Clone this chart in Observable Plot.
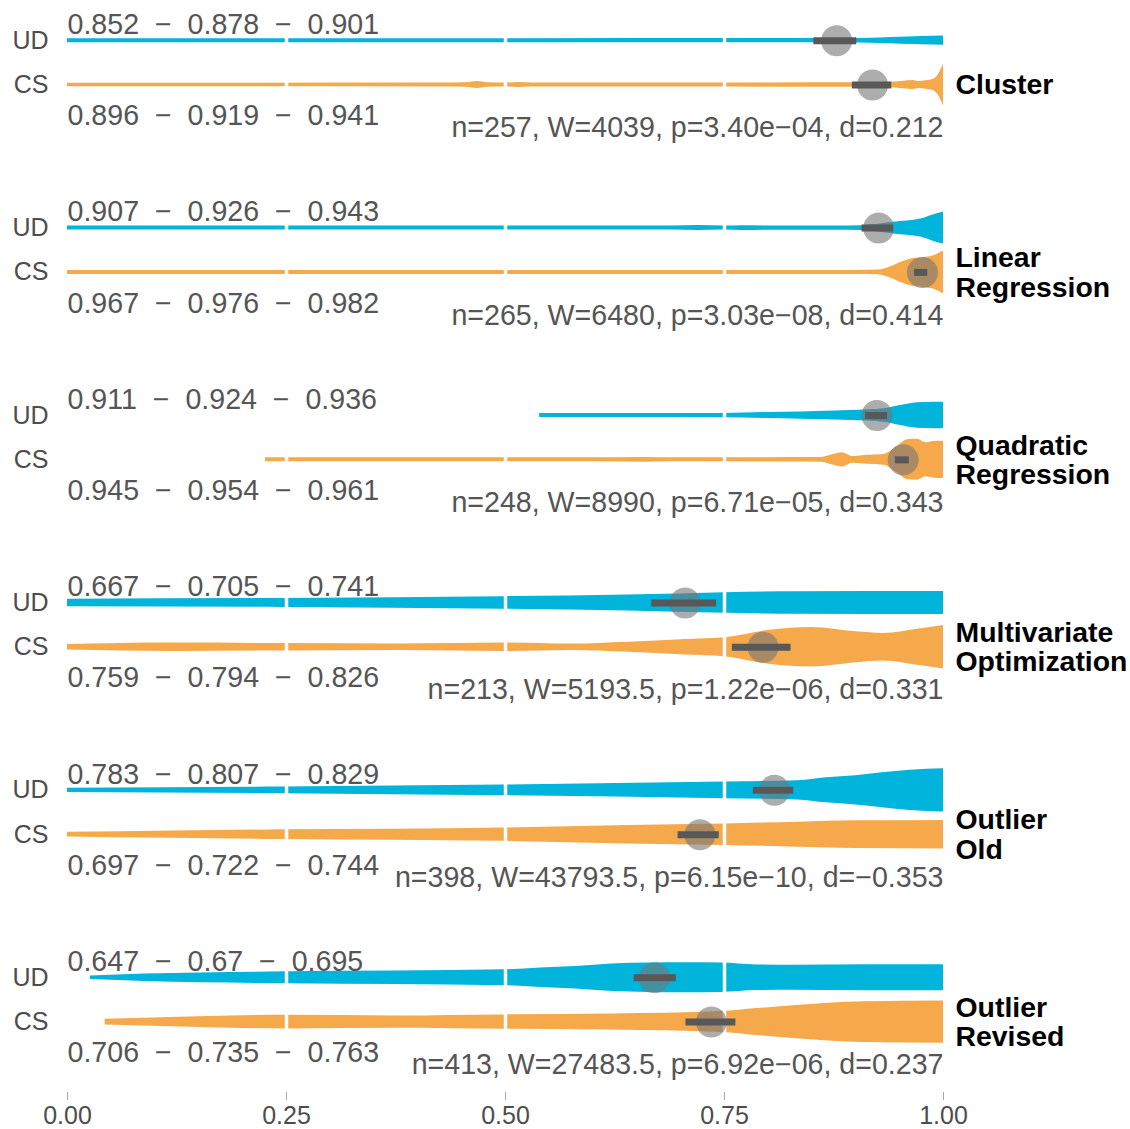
<!DOCTYPE html>
<html>
<head>
<meta charset="utf-8">
<script src="https://cdn.jsdelivr.net/npm/d3@7"></script>
<script src="https://cdn.jsdelivr.net/npm/@observablehq/plot@0.6"></script>
<style>
  html, body { margin: 0; padding: 0; background: #fff; }
</style>
</head>
<body>
<div id="chart"></div>
<script>
// ---- data ----
const panelNames = ["Cluster", "Linear\nRegression", "Quadratic\nRegression",
  "Multivariate\nOptimization", "Outlier\nOld", "Outlier\nRevised"];
const groups = ["UD", "CS"];

// [lower, mean, upper] of the confidence interval
const udCI = [[0.852, 0.878, 0.901], [0.907, 0.926, 0.943], [0.911, 0.924, 0.936],
  [0.667, 0.705, 0.741], [0.783, 0.807, 0.829], [0.647, 0.67, 0.695]];
const csCI = [[0.896, 0.919, 0.941], [0.967, 0.976, 0.982], [0.945, 0.954, 0.961],
  [0.759, 0.794, 0.826], [0.697, 0.722, 0.744], [0.706, 0.735, 0.763]];

const nVals = [257, 265, 248, 213, 398, 413];
const wVals = [4039, 6480, 8990, 5193.5, 43793.5, 27483.5];
const pVals = [3.40e-4, 3.03e-8, 6.71e-5, 1.22e-6, 6.15e-10, 6.92e-6];
const dVals = [0.212, 0.414, 0.343, 0.331, -0.353, 0.237];

// violin profiles: [value, relative density (half width)]
const udDensity = [
  [[0, 2], [0.5, 2], [0.8, 2.1], [0.905, 2.3], [0.951, 3.5], [1, 4.6]],
  [[0, 2], [0.5, 2], [0.69, 2], [0.72, 2.5], [0.75, 2], [0.77, 2.4], [0.8, 2.1], [0.88, 2.1],
   [0.905, 2.4], [0.925, 3.8], [0.943, 5.8], [0.974, 9], [0.989, 13.3], [1, 16]],
  [[0.539, 2], [0.6, 2], [0.749, 2.1], [0.8, 3], [0.837, 3.6], [0.894, 5], [0.932, 6.7],
   [0.951, 10], [0.97, 12.8], [0.989, 13.3], [1, 13.3]],
  [[0, 3.8], [0.245, 4.5], [0.498, 6.3], [0.64, 8], [0.75, 10.3], [0.834, 11.3], [1, 11.5]],
  [[0, 2.2], [0.245, 3.3], [0.498, 5.3], [0.75, 8.3], [0.834, 9.6], [0.866, 12.5], [0.9, 14.7],
   [0.93, 17.5], [0.962, 20.2], [1, 21.7]],
  [[0.026, 1.8], [0.088, 3.7], [0.25, 6], [0.499, 8], [0.54, 9.8], [0.58, 11.3], [0.622, 13.8],
   [0.663, 14.7], [0.704, 15], [0.746, 14.7], [0.787, 12.8], [0.828, 12.5], [0.91, 12.9], [1, 13]]
];
const csDensity = [
  [[0, 1.8], [0.42, 1.9], [0.455, 2.2], [0.468, 3.4], [0.48, 2.2], [0.5, 2], [0.515, 2.5],
   [0.53, 2], [0.7, 2.1], [0.9, 2.2], [0.94, 2.8], [0.955, 3.8], [0.965, 4.6], [0.972, 3.6],
   [0.98, 4.3], [0.988, 5.5], [0.994, 10], [1, 21]],
  [[0, 2], [0.5, 2], [0.9, 2], [0.925, 2.4], [0.94, 5.8], [0.951, 10], [0.962, 13.3],
   [0.977, 15], [0.989, 16.8], [1, 21.5]],
  [[0.226, 2], [0.6, 2], [0.66, 2.4], [0.69, 2], [0.86, 2.3], [0.875, 5.5], [0.884, 7.2],
   [0.897, 3.4], [0.913, 4.5], [0.932, 5.4], [0.947, 13], [0.959, 20], [0.97, 20.5],
   [0.98, 17], [0.989, 18.3], [1, 18.7]],
  [[0, 2.8], [0.121, 4.2], [0.245, 3.7], [0.38, 3.3], [0.498, 4.3], [0.575, 3.2], [0.64, 5],
   [0.705, 7.7], [0.75, 9.5], [0.801, 17], [0.85, 19.8], [0.9, 15.5], [0.932, 13.8],
   [0.97, 18], [1, 21.7]],
  [[0, 2.3], [0.121, 3.7], [0.245, 4.8], [0.498, 6.7], [0.64, 9.2], [0.75, 10.7], [0.834, 12.5],
   [0.9, 13.8], [1, 14.2]],
  [[0.043, 2.8], [0.129, 4.8], [0.25, 6.8], [0.376, 6.2], [0.499, 7.2], [0.622, 8],
   [0.746, 10.5], [0.787, 13.5], [0.828, 16.3], [0.869, 18.8], [0.91, 20.3], [1, 21.2]]
];

const xTicks = [0, 0.25, 0.5, 0.75, 1];
const gridValues = [0.25, 0.5, 0.75];

// ---- styling ----
const colors = ["#00B4DC", "#F5A94A"];
const rowOf = {UD: 1, CS: 0};
const k = 1 / 44.3;            // density unit -> row units
const textGray = "#555555";
const font = "'Liberation Sans', Arial, Helvetica, sans-serif";
const statSize = 28.6;

// ---- formatting ----
const sep = "\u00a0\u00a0\u2212\u00a0\u00a0";
const ciText = ci => ci.map(String).join(sep);
const fmtP = p => {
  const [m, e] = p.toExponential(2).split("e");
  const sign = e[0] === "-" ? "\u2212" : "+";
  return `${m}e${sign}${e.replace(/^[+-]/, "").padStart(2, "0")}`;
};
const fmtD = d => (d < 0 ? "\u2212" : "") + String(Math.abs(d));

// ---- tables ----
const violinRows = [];
panelNames.forEach((panel, i) => {
  udDensity[i].forEach(([v, d]) => violinRows.push({panel, group: "UD", c: rowOf.UD, v, d}));
  csDensity[i].forEach(([v, d]) => violinRows.push({panel, group: "CS", c: rowOf.CS, v, d}));
});

const summaryRows = [];
panelNames.forEach((panel, i) => {
  summaryRows.push({panel, group: "UD", c: rowOf.UD, lo: udCI[i][0], mean: udCI[i][1], hi: udCI[i][2]});
  summaryRows.push({panel, group: "CS", c: rowOf.CS, lo: csCI[i][0], mean: csCI[i][1], hi: csCI[i][2]});
});

const textRows = panelNames.map((panel, i) => ({
  panel,
  udText: ciText(udCI[i]),
  csText: ciText(csCI[i]),
  stat: `n=${nVals[i]}, W=${wVals[i]}, p=${fmtP(pVals[i])}, d=${fmtD(dVals[i])}`
}));

const chart = Plot.plot({
  width: 1130,
  height: 1129,
  marginLeft: 67,
  marginRight: 187,
  marginTop: 20,
  marginBottom: 37,
  style: {fontFamily: font, background: "#fff"},
  x: {domain: [0, 1]},
  y: {domain: [-1.589, 1.456]},
  fy: {domain: panelNames, axis: null, paddingInner: 0.28, paddingOuter: 0, round: false},
  color: {domain: groups, range: colors},
  marks: [
    Plot.areaY(violinRows, {
      fy: "panel", x: "v",
      y1: r => r.c - r.d * k, y2: r => r.c + r.d * k,
      z: "group", fill: "group", curve: "monotone-x"
    }),
    Plot.ruleX(gridValues, {stroke: "#fff", strokeWidth: 3.5}),
    Plot.dot(summaryRows, {fy: "panel", x: "mean", y: "c", r: 15.5, fill: "#767676", fillOpacity: 0.6, stroke: null}),
    Plot.ruleY(summaryRows, {fy: "panel", y: "c", x1: "lo", x2: "hi", stroke: "#585858", strokeWidth: 7}),
    Plot.text(textRows, {fy: "panel", y: () => 1, dy: -16, frameAnchor: "left", textAnchor: "start",
      text: "udText", fontSize: statSize, fill: textGray}),
    Plot.text(textRows, {fy: "panel", y: () => 0, dy: 31, frameAnchor: "left", textAnchor: "start",
      text: "csText", fontSize: statSize, fill: textGray}),
    Plot.text(textRows, {fy: "panel", y: () => 0, dy: 43, frameAnchor: "right", textAnchor: "end",
      text: "stat", fontSize: statSize, fill: textGray}),
    Plot.text(textRows, {fy: "panel", y: () => 0, dx: 12, frameAnchor: "right", textAnchor: "start",
      text: "panel", fontSize: 28.4, fontWeight: "bold", fill: "#000", lineHeight: 1.04}),
    Plot.axisY({ticks: [0, 1], tickFormat: d => d === 1 ? "UD" : "CS", tickSize: 0, tickPadding: 19,
      fontSize: 25, fill: "#4d4d4d", label: null}),
    Plot.axisX({ticks: xTicks, tickFormat: d3.format(".2f"), tickSize: 8, tickPadding: 6,
      fontSize: 25, fill: "#4d4d4d", stroke: "#aaaaaa", label: null})
  ]
});
document.getElementById("chart").appendChild(chart);
</script>
</body>
</html>
